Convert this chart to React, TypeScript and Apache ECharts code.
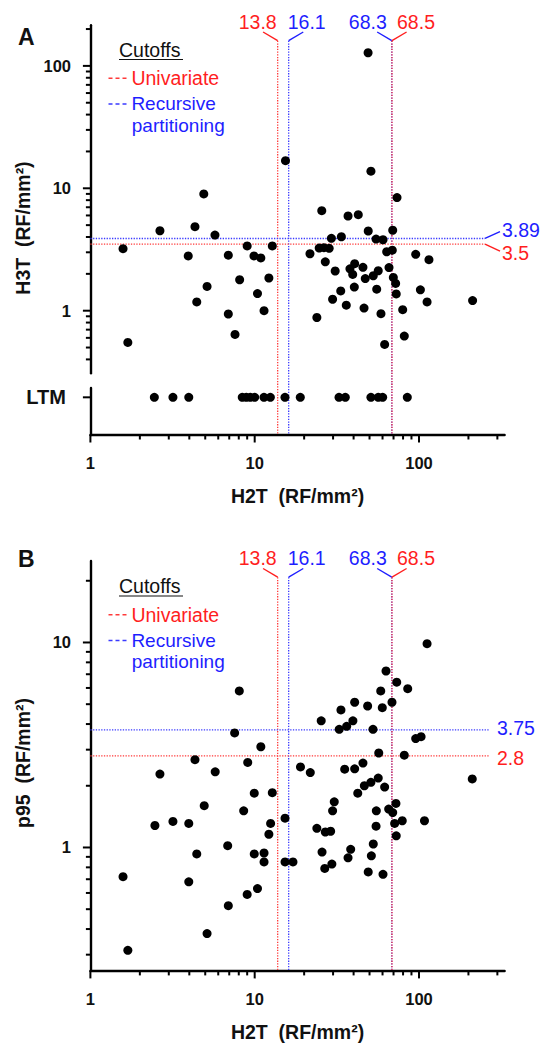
import React, { useEffect, useRef } from "react";
import * as echarts from "echarts";

const FONT = '"Liberation Sans", Arial, Helvetica, sans-serif';
const RED_TEXT = "#ff1e1e";
const BLUE_TEXT = "#1e1eff";
const RED_LINE = "#ff3a3a";
const BLUE_LINE = "#3a3aff";
const INK = "#111";

// ---- axis ranges & ticks ----
const H2T_RANGE = [1, 332];
const H3T_RANGE = [0.308, 215];
const P95_RANGE = [0.25, 25];
const LTM_LEVEL = 0.8;
const LTM_LABEL = "LTM";

const H2T_TICKS = [1, 2, 3, 4, 5, 6, 7, 8, 9, 10, 20, 30, 40, 50, 60, 70, 80, 90, 100, 200, 300];
const H3T_TICKS = [0.4, 0.5, 0.6, 0.7, 0.8, 0.9, 1, 2, 3, 4, 5, 6, 7, 8, 9, 10, 20, 30, 40, 50, 60, 70, 80, 90, 100, 200];
const P95_TICKS = [0.3, 0.4, 0.5, 0.6, 0.7, 0.8, 0.9, 1, 2, 3, 4, 5, 6, 7, 8, 9, 10, 20];

// ---- cutoffs ----
const H2T_CUTOFF_UNIVARIATE = [13.8, 68.5];
const H2T_CUTOFF_RECURSIVE = [16.1, 68.3];
const H3T_CUTOFF_UNIVARIATE = 3.5;
const H3T_CUTOFF_RECURSIVE = 3.89;
const P95_CUTOFF_UNIVARIATE = 2.8;
const P95_CUTOFF_RECURSIVE = 3.75;

// ---- panel A: H2T vs H3T (RF/mm2) ----
const panelA_H2T = [
  15.4, 49, 4.9, 2.65, 4.33, 5.73, 1.58, 3.94, 6.91, 9.0, 9.9, 10.9, 12.8, 8.1, 12.2, 5.13, 10.4, 4.44, 11.4, 6.91,
  7.59, 1.69, 51, 73.5, 25.6, 37, 42.7, 49.1, 69.2, 29.3, 33.7, 54.8, 60.4, 24.7, 26.4, 28.4, 21.7, 63.6, 68.8, 95.5,
  115, 26.9, 30.9, 38, 40.6, 45.6, 39.5, 47.1, 52.7, 56.5, 65.7, 69.8, 72.1, 40.4, 33.4, 55.3, 72.7, 102, 29.8, 36.1,
  46.3, 58.7, 79.6, 112, 212, 23.9, 81.4, 61.8,
];
const panelA_H3T = [
  16.8, 128, 9.0, 4.5, 4.86, 4.15, 3.21, 2.8, 2.84, 3.38, 2.8, 2.7, 3.38, 1.79, 1.85, 1.58, 1.38, 1.18, 1.0, 0.94,
  0.64, 0.55, 13.8, 8.4, 6.56, 5.94, 6.09, 4.48, 4.54, 3.9, 4.02, 3.85, 3.8, 3.25, 3.27, 3.23, 2.92, 3.03, 3.12, 2.89,
  2.61, 2.51, 2.11, 2.2, 2.42, 2.26, 1.98, 1.83, 1.93, 2.12, 2.25, 1.87, 1.67, 1.56, 1.45, 1.5, 1.37, 1.48, 1.24, 1.11,
  1.05, 0.945, 1.02, 1.18, 1.21, 0.88, 0.62, 0.53,
];
// H3T below the limit of measurement (LTM)
const panelA_LTM_H2T = [2.45, 3.18, 3.97, 8.4, 8.89, 9.4, 10.0, 11.39, 12.45, 15.29, 18.95, 32.6, 35.6, 51.0, 56.5, 60.1, 84.9];

// ---- panel B: H2T vs p95 (RF/mm2) ----
const panelB_H2T = [
  8.06, 7.55, 10.9, 4.33, 9.07, 5.75, 2.65, 9.94, 12.8,
  112, 63, 73.2, 85.4, 58.5, 68.5, 40.6, 48.7, 59.8, 33.5, 25.4, 39.6, 36.3, 32.7, 52.5, 95.5, 103, 56.9, 81.4, 19,
  21.8, 35.3, 40.6, 45.6, 56.5, 51, 46.5, 61.8, 42.4, 211,
  4.93, 8.57, 30.5, 29.8, 55, 65.4, 69.2, 72.4, 15.3, 2.47, 3.18, 3.97, 12.5, 12.2, 23.9, 26.9, 29, 54.8, 71.1, 79.1,
  108, 72.7, 6.85, 52.7, 4.44, 9.94, 11.4, 11.4, 15.3, 17.1, 25.7, 38.4, 37, 51.3, 29.5, 26.7, 49.1, 60.4, 1.58, 3.97,
  9.0, 10.4, 6.91, 5.13, 1.69,
];
const panelB_P95 = [
  5.8, 3.62, 3.1, 2.68, 2.6, 2.34, 2.28, 1.84, 1.85,
  9.87, 7.26, 6.4, 5.95, 5.8, 5.11, 5.11, 4.9, 4.81, 4.69, 4.15, 4.15, 3.9, 3.77, 3.77, 3.4, 3.47, 2.89, 2.82, 2.47,
  2.32, 2.41, 2.42, 2.58, 2.18, 2.08, 2.0, 1.97, 1.84, 2.16,
  1.6, 1.51, 1.67, 1.51, 1.51, 1.54, 1.48, 1.64, 1.39, 1.28, 1.34, 1.31, 1.31, 1.16, 1.24, 1.19, 1.2, 1.27, 1.31, 1.35,
  1.35, 1.14, 1.02, 1.04, 0.93, 0.93, 0.94, 0.85, 0.85, 0.85, 0.95, 0.98, 0.89, 0.91, 0.83, 0.79, 0.76, 0.74, 0.72, 0.68,
  0.59, 0.63, 0.52, 0.38, 0.315,
];

// ---- styling / layout ----
const GRID_LEFT = 90.4;
const GRID_WIDTH = 414.2;
const A_TOP = 25.2;
const B_DY = 536.5;
const MAJOR_TICK = 7.5;
const MINOR_TICK = 4.5;
const TICK_COLOR = "#000";

const isMajor = (v: number) => {
  const l = Math.log10(v);
  return Math.abs(l - Math.round(l)) < 1e-6;
};

const vCutStyles = [
  { color: RED_LINE, text: RED_TEXT, dir: -1, dx: -20 },
  { color: BLUE_LINE, text: BLUE_TEXT, dir: 1, dx: 18 },
  { color: BLUE_LINE, text: BLUE_TEXT, dir: -1, dx: -24 },
  { color: RED_LINE, text: RED_TEXT, dir: 1, dx: 24 },
];
const vCutValues = [
  H2T_CUTOFF_UNIVARIATE[0],
  H2T_CUTOFF_RECURSIVE[0],
  H2T_CUTOFF_RECURSIVE[1],
  H2T_CUTOFF_UNIVARIATE[1],
];

const hCutStylesA = [
  { color: RED_LINE, text: RED_TEXT, endX: 485, connDy: 7.1, labelX: 502, labelDy: 8.6 },
  { color: BLUE_LINE, text: BLUE_TEXT, endX: 485, connDy: -6.8, labelX: 502, labelDy: -8 },
];
const hCutStylesB = [
  { color: RED_LINE, text: RED_TEXT, endX: 489, connDy: 0, labelX: 497, labelDy: 2 },
  { color: BLUE_LINE, text: BLUE_TEXT, endX: 489, connDy: 0, labelX: 497, labelDy: -1.5 },
];

const makeVCutRender = (topY: number) => (_params: any, api: any) => {
  const v = api.value(0);
  const s = vCutStyles[api.value(2)];
  const p = api.coord([v, api.value(1)]);
  const x = p[0];
  return {
    type: "group",
    children: [
      {
        type: "line",
        shape: { x1: x, y1: topY, x2: x, y2: p[1] },
        style: { stroke: s.color, lineWidth: 1.3, lineDash: [1.3, 1.4] },
      },
      {
        type: "line",
        shape: { x1: x, y1: topY, x2: x + s.dir * 14.6, y2: topY - 8.7 },
        style: { stroke: s.text, lineWidth: 1.4 },
      },
      {
        type: "text",
        x: x + s.dx,
        y: topY - 19.2,
        style: {
          text: v.toFixed(1),
          fill: s.text,
          font: `19.5px ${FONT}`,
          align: "center",
          verticalAlign: "middle",
          textAlign: "center",
          textVerticalAlign: "middle",
        },
      },
    ],
  };
};

const makeHCutRender = (styles: any[]) => (_params: any, api: any) => {
  const v = api.value(1);
  const s = styles[api.value(2)];
  const p = api.coord([api.value(0), v]);
  const y = p[1];
  const children: any[] = [
    {
      type: "line",
      shape: { x1: p[0], y1: y, x2: s.endX, y2: y },
      style: { stroke: s.color, lineWidth: 1.3, lineDash: [1.3, 1.4] },
    },
  ];
  if (s.connDy) {
    children.push({
      type: "line",
      shape: { x1: s.endX, y1: y, x2: s.endX + 15, y2: y + s.connDy },
      style: { stroke: s.text, lineWidth: 1.4 },
    });
  }
  children.push({
    type: "text",
    x: s.labelX,
    y: y + s.labelDy,
    style: {
      text: String(v),
      fill: s.text,
      font: `19.5px ${FONT}`,
      align: "left",
      verticalAlign: "middle",
      textAlign: "left",
      textVerticalAlign: "middle",
    },
  });
  return { type: "group", children };
};

const tickLabel = (v: number) => (isMajor(v) ? String(Math.round(v)) : "");

const axisLineStyle = { show: true, onZero: false, lineStyle: { color: "#000", width: 2.4 } };
const labelFont = { color: INK, fontFamily: FONT, fontWeight: "bold" as const, fontSize: 16.5 };

const xAxisOf = (gridIndex: number, visible: boolean) => ({
  type: "log",
  logBase: 10,
  gridIndex,
  min: H2T_RANGE[0],
  max: H2T_RANGE[1],
  show: visible,
  axisLine: axisLineStyle,
  axisTick: { show: false },
  minorTick: { show: false },
  splitLine: { show: false },
  axisLabel: { ...labelFont, margin: 19.5, formatter: tickLabel },
  name: visible ? "H2T  (RF/mm²)" : "",
  nameLocation: "middle",
  nameGap: 51,
  nameTextStyle: { color: INK, fontFamily: FONT, fontWeight: "bold", fontSize: 19.5 },
});

const logYAxis = (gridIndex: number, range: number[]) => ({
  type: "log",
  logBase: 10,
  gridIndex,
  min: range[0],
  max: range[1],
  axisLine: axisLineStyle,
  axisTick: { show: false },
  minorTick: { show: false },
  splitLine: { show: false },
  axisLabel: { ...labelFont, margin: 19.4, formatter: tickLabel },
});

const legendText = (text: string, x: number, y: number, fill: string, size: number) => ({
  type: "text",
  x,
  y,
  style: { text, fill, font: `${size}px ${FONT}`, verticalAlign: "middle", textVerticalAlign: "middle" },
});

const legend = (dy: number) => [
  legendText("Cutoffs", 119, 49.9 + dy, INK, 19.5),
  { type: "line", shape: { x1: 119, y1: 59.5 + dy, x2: 183, y2: 59.5 + dy }, style: { stroke: INK, lineWidth: 1.2 } },
  {
    type: "line",
    shape: { x1: 108.5, y1: 78.2 + dy, x2: 127, y2: 78.2 + dy },
    style: { stroke: RED_LINE, lineWidth: 1.5, lineDash: [4, 3] },
  },
  legendText("Univariate", 131.4, 78.2 + dy, RED_TEXT, 19.5),
  {
    type: "line",
    shape: { x1: 108.5, y1: 104 + dy, x2: 127, y2: 104 + dy },
    style: { stroke: BLUE_LINE, lineWidth: 1.5, lineDash: [4, 3] },
  },
  legendText("Recursive", 131.4, 103.6 + dy, BLUE_TEXT, 19),
  legendText("partitioning", 131.8, 125.4 + dy, BLUE_TEXT, 19),
];

const yTitle = (text: string, x: number, y: number) => ({
  type: "text",
  x,
  y,
  rotation: Math.PI / 2,
  style: {
    text,
    fill: INK,
    font: `bold 19.5px ${FONT}`,
    align: "center",
    verticalAlign: "middle",
    textAlign: "center",
    textVerticalAlign: "middle",
  },
});

const panelLetter = (text: string, y: number) => ({
  type: "text",
  x: 18,
  y,
  style: { text, fill: INK, font: `bold 23px ${FONT}`, verticalAlign: "middle", textVerticalAlign: "middle" },
});

const baseGraphic = [
  panelLetter("A", 37),
  panelLetter("B", 558.7),
  ...legend(0),
  ...legend(B_DY),
  yTitle("H3T  (RF/mm²)", 22.5, 228),
  yTitle("p95  (RF/mm²)", 22.5, 763),
];

const scatterStyle = {
  type: "scatter",
  symbol: "circle",
  symbolSize: 9,
  itemStyle: { color: "#000", opacity: 1 },
  silent: true,
  z: 5,
};

const option: any = {
  animation: false,
  backgroundColor: "#fff",
  grid: [
    { left: GRID_LEFT, top: A_TOP, width: GRID_WIDTH, height: 348.1, outerBoundsMode: "none" },
    { left: GRID_LEFT, top: 387.9, width: GRID_WIDTH, height: 47.1, outerBoundsMode: "none" },
    { left: GRID_LEFT, top: 560.9, width: GRID_WIDTH, height: 410, outerBoundsMode: "none" },
  ],
  xAxis: [xAxisOf(0, false), xAxisOf(1, true), xAxisOf(2, true)],
  yAxis: [
    logYAxis(0, H3T_RANGE),
    {
      type: "value",
      gridIndex: 1,
      min: 0,
      max: 1,
      interval: 0.2,
      axisLine: axisLineStyle,
      axisTick: { show: false },
      splitLine: { show: false },
      axisLabel: {
        ...labelFont,
        fontSize: 20,
        margin: 24.5,
        formatter: (v: number) => (Math.abs(v - LTM_LEVEL) < 1e-6 ? LTM_LABEL : ""),
      },
    },
    logYAxis(2, P95_RANGE),
  ],
  graphic: baseGraphic,
  series: [
    {
      type: "custom",
      xAxisIndex: 1,
      yAxisIndex: 1,
      clip: false,
      silent: true,
      z: 1,
      renderItem: makeVCutRender(40.7),
      data: vCutValues.map((v, i) => [v, 0, i]),
    },
    {
      type: "custom",
      xAxisIndex: 0,
      yAxisIndex: 0,
      clip: false,
      silent: true,
      z: 1,
      renderItem: makeHCutRender(hCutStylesA),
      data: [
        [H2T_RANGE[0], H3T_CUTOFF_UNIVARIATE, 0],
        [H2T_RANGE[0], H3T_CUTOFF_RECURSIVE, 1],
      ],
    },
    {
      type: "custom",
      xAxisIndex: 2,
      yAxisIndex: 2,
      clip: false,
      silent: true,
      z: 1,
      renderItem: makeVCutRender(40.7 + B_DY),
      data: vCutValues.map((v, i) => [v, P95_RANGE[0], i]),
    },
    {
      type: "custom",
      xAxisIndex: 2,
      yAxisIndex: 2,
      clip: false,
      silent: true,
      z: 1,
      renderItem: makeHCutRender(hCutStylesB),
      data: [
        [H2T_RANGE[0], P95_CUTOFF_UNIVARIATE, 0],
        [H2T_RANGE[0], P95_CUTOFF_RECURSIVE, 1],
      ],
    },
    { ...scatterStyle, xAxisIndex: 0, yAxisIndex: 0, data: panelA_H2T.map((x, i) => [x, panelA_H3T[i]]) },
    { ...scatterStyle, xAxisIndex: 1, yAxisIndex: 1, data: panelA_LTM_H2T.map((x) => [x, LTM_LEVEL]) },
    { ...scatterStyle, xAxisIndex: 2, yAxisIndex: 2, data: panelB_H2T.map((x, i) => [x, panelB_P95[i]]) },
  ],
};

// tick marks (major + minor), positioned through the axes' own scales
function buildTicks(chart: any) {
  const out: any[] = [];
  const tick = (x1: number, y1: number, x2: number, y2: number) =>
    out.push({
      type: "line",
      silent: true,
      z: 100,
      shape: { x1, y1, x2, y2 },
      style: { stroke: TICK_COLOR, lineWidth: 2 },
    });
  const xTicks = (gridIndex: number, yAt: number) =>
    H2T_TICKS.forEach((v) => {
      const p = chart.convertToPixel({ gridIndex }, [v, yAt]);
      if (!p) return;
      const len = isMajor(v) ? MAJOR_TICK : MINOR_TICK;
      tick(p[0], p[1], p[0], p[1] + len);
    });
  const yTicks = (gridIndex: number, values: number[], forceMajor = false) =>
    values.forEach((v) => {
      const p = chart.convertToPixel({ gridIndex }, [H2T_RANGE[0], v]);
      if (!p) return;
      const len = forceMajor || isMajor(v) ? MAJOR_TICK : MINOR_TICK;
      tick(p[0], p[1], p[0] - len, p[1]);
    });
  yTicks(0, H3T_TICKS);
  xTicks(1, 0);
  yTicks(1, [LTM_LEVEL], true);
  xTicks(2, P95_RANGE[0]);
  yTicks(2, P95_TICKS);
  return out;
}

export default function App() {
  const ref = useRef<HTMLDivElement>(null);
  useEffect(() => {
    if (!ref.current) return;
    const chart = echarts.init(ref.current, null, { renderer: "svg" });
    chart.setOption(option);
    chart.setOption({ graphic: [...baseGraphic, ...buildTicks(chart)] });
    return () => chart.dispose();
  }, []);
  return (
    <div
      ref={ref}
      style={{ position: "absolute", left: 0, top: 0, width: 542, height: 1044, background: "#fff" }}
    />
  );
}
